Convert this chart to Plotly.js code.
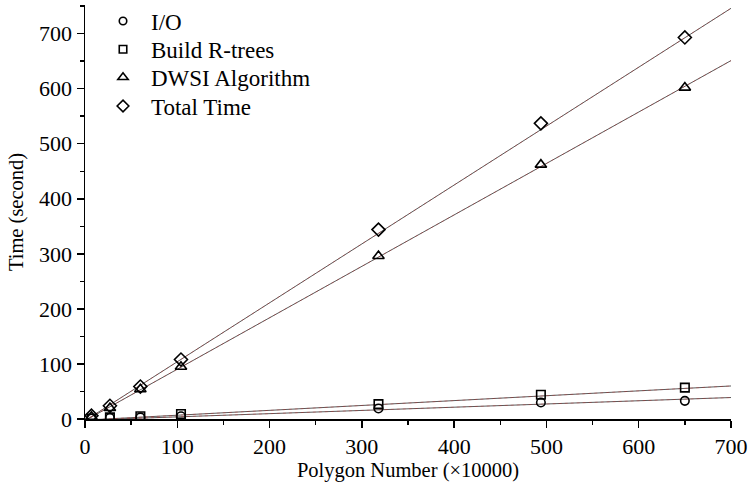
<!DOCTYPE html>
<html><head><meta charset="utf-8">
<script src="https://cdn.plot.ly/plotly-3.0.1.min.js"></script>
<style>html,body{margin:0;padding:0;background:#fff}</style>
</head><body>
<div id="chart" style="width:749px;height:489px"></div>
<script>
// Polygon number (x10000)
const polygonNumber = [7, 27, 60, 104, 318, 494, 650];
const ioTime     = [1, 2, 3, 5, 19, 30, 33];
const rtreeTime  = [1, 3, 5, 9, 27, 44, 57];
const dwsiTime   = [4, 20, 54, 95, 296, 462, 602];
const totalTime  = [6, 24, 59, 108, 344, 537, 693];
// fitted line endpoints
const fitX      = [0, 700];
const ioFit     = [-2, 39];
const rtreeFit  = [-2, 60];
const dwsiFit   = [-3, 651];
const totalFit  = [-3, 746];

const names = ['I/O', 'Build R-trees', 'DWSI Algorithm', 'Total Time'];
const series = [ioTime, rtreeTime, dwsiTime, totalTime];
const fits = [ioFit, rtreeFit, dwsiFit, totalFit];
const symbols = ['circle-open', 'square-open', 'triangle-up-open', 'diamond-open'];
const markerSizes = [8.5, 8.5, 10, 10];
const legendSizes = [7.5, 7.5, 9, 9];
const legendIds = ['legend', 'legend2', 'legend3', 'legend4'];
const legendRowY = [0.9613, 0.8930, 0.8254, 0.7560];

const traces = [];
fits.forEach(f => {
  traces.push({x: fitX, y: f, mode: 'lines', line: {color: '#5a5a5a', width: 1}, showlegend: false, hoverinfo: 'skip'});
  traces.push({x: fitX, y: f, mode: 'lines', line: {color: '#cc2222', width: 1, dash: 'dot'}, opacity: 0.35, showlegend: false, hoverinfo: 'skip'});
});
series.forEach((s, i) => {
  traces.push({x: polygonNumber, y: s, name: names[i], mode: 'markers', showlegend: false,
    marker: {symbol: symbols[i], size: markerSizes[i], color: '#000', line: {width: 1.6, color: '#000'}}});
  // legend-only entry with smaller symbol
  traces.push({x: [null], y: [null], name: names[i], mode: 'markers', showlegend: true, legend: legendIds[i],
    marker: {symbol: symbols[i], size: legendSizes[i], color: '#000', line: {width: 1.6, color: '#000'}}});
});

const ff = '"Liberation Serif", "Times New Roman", serif';
const tickFont = {family: ff, size: 22, color: '#000'};
const titleFont = {family: ff, size: 20.5, color: '#000'};
const legendFont = {family: ff, size: 23, color: '#000'};
const layout = {
  width: 749, height: 489,
  margin: {l: 85, r: 18, t: 5, b: 70, autoexpand: false},
  paper_bgcolor: '#fff', plot_bgcolor: '#fff',
  font: tickFont,
  showlegend: true,
  xaxis: {
    range: [0, 700], showgrid: false, zeroline: false, showline: true, linecolor: '#000', linewidth: 1.5,
    ticks: 'outside', ticklen: 7, tickwidth: 1.5, tickcolor: '#000', dtick: 100, tick0: 0,
    minor: {ticks: 'outside', ticklen: 4, tickwidth: 1.5, tickcolor: '#000', dtick: 50, showgrid: false},
    tickfont: tickFont,
    title: {text: 'Polygon Number (×10000)', font: titleFont, standoff: 2}
  },
  yaxis: {
    range: [0, 752], showgrid: false, zeroline: false, showline: true, linecolor: '#000', linewidth: 1.5,
    ticks: 'outside', ticklen: 7, tickwidth: 1.5, tickcolor: '#000', dtick: 100, tick0: 0,
    minor: {ticks: 'outside', ticklen: 4, tickwidth: 1.5, tickcolor: '#000', dtick: 50, showgrid: false},
    tickfont: tickFont,
    title: {text: 'Time (second)', font: titleFont, standoff: 10}
  }
};
legendIds.forEach((id, i) => {
  layout[id] = {x: 0.0155, y: legendRowY[i], xanchor: 'left', yanchor: 'middle', bgcolor: 'rgba(0,0,0,0)',
    font: legendFont, itemwidth: 46, borderwidth: 0};
});
Plotly.newPlot('chart', traces, layout, {displayModeBar: false, staticPlot: true});
</script>
</body></html>
